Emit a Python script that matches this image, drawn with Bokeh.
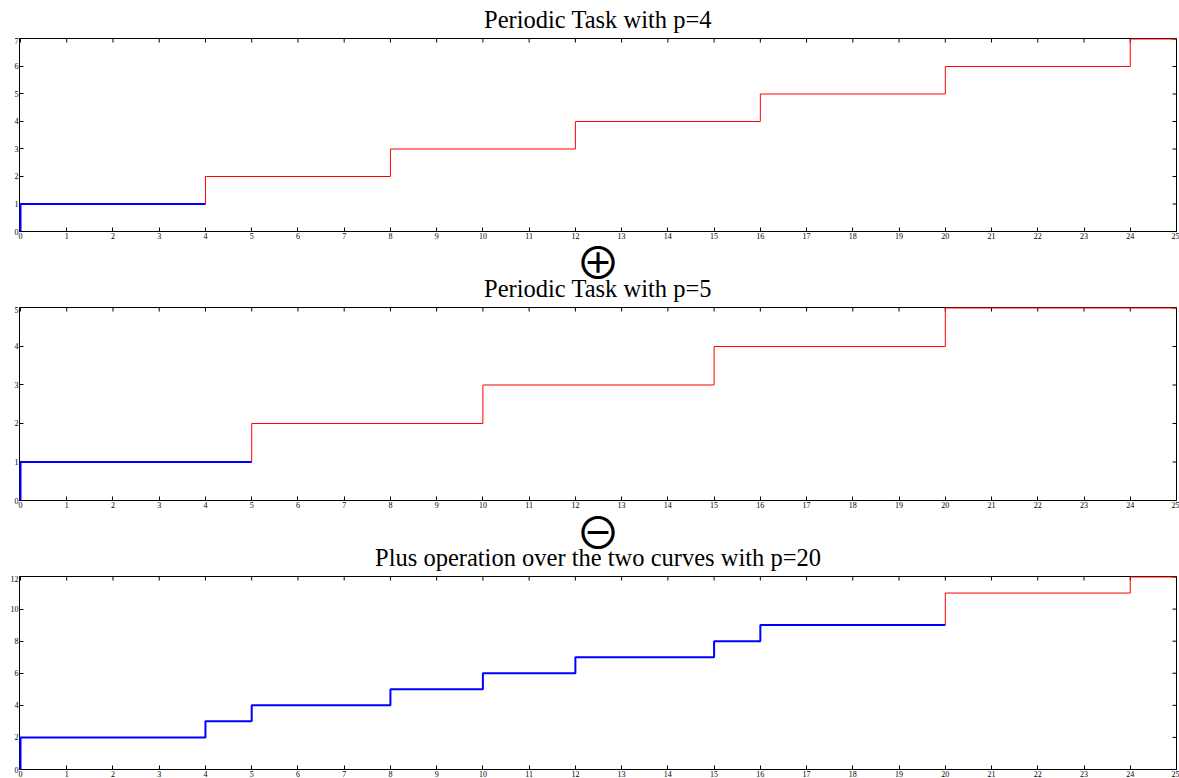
import math
from bokeh.plotting import figure
from bokeh.models import FixedTicker, Range1d
from bokeh.core.properties import value
from bokeh.layouts import column
from bokeh.embed import file_html
from bokeh.resources import INLINE

# ---- data ----
x_ticks = list(range(0, 26))
x_max = 25

p4_blue_x = [0, 0, 4]
p4_blue_y = [0, 1, 1]
p4_red_x = [4, 4, 8, 12, 16, 20, 24, 25]
p4_red_y = [1, 2, 3, 4, 5, 6, 7, 7]
p4_yticks = [0, 1, 2, 3, 4, 5, 6, 7]
p4_ymax = 7

p5_blue_x = [0, 0, 5]
p5_blue_y = [0, 1, 1]
p5_red_x = [5, 5, 10, 15, 20, 25]
p5_red_y = [1, 2, 3, 4, 5, 5]
p5_yticks = [0, 1, 2, 3, 4, 5]
p5_ymax = 5

sum_blue_x = [0, 0, 4, 5, 8, 10, 12, 15, 16, 20]
sum_blue_y = [0, 2, 3, 4, 5, 6, 7, 8, 9, 9]
sum_red_x = [20, 20, 24, 25]
sum_red_y = [9, 11, 12, 12]
sum_yticks = [0, 2, 4, 6, 8, 10, 12]
sum_ymax = 12

titles = ["Periodic Task with p=4", "Periodic Task with p=5",
          "Plus operation over the two curves with p=20"]
symbols = [None, "\u2295", "\u2296"]

SERIF = "Liberation Serif"
FW, FH = 1157, 193
BL, BR = 19, 3
OVERLAP = 22   # header panels slide up over the tick-label strip above


def header(title, symbol, h, title_y, sym_y, overlap):
    p = figure(frame_width=FW, frame_height=h, output_backend="svg",
               toolbar_location=None, x_range=Range1d(0, 1),
               y_range=Range1d(0, h), x_axis_type=None, y_axis_type=None,
               min_border_left=BL, min_border_right=BR,
               min_border_top=0, min_border_bottom=0,
               margin=(-overlap, 0, 0, 0))
    p.grid.visible = False
    p.outline_line_color = None
    p.background_fill_alpha = 0
    p.border_fill_alpha = 0
    p.text(x=[0.5], y=[title_y], text=[title], text_font=value(SERIF),
           text_font_size="24.5px", text_align="center",
           text_baseline="alphabetic", text_color="black")
    if symbol:
        p.text(x=[0.5], y=[sym_y], text=[symbol],
               text_font=value("Noto Sans CJK JP, DejaVu Sans"),
               text_font_size="45px", text_align="center",
               text_baseline="middle", text_color="black")
    return p


def style_axis(ax):
    ax.major_tick_in = 4
    ax.major_tick_out = 0
    ax.minor_tick_line_color = None
    ax.axis_line_color = "black"
    ax.major_tick_line_color = "black"
    ax.major_label_text_font = SERIF
    ax.major_label_text_color = "black"
    ax.major_label_standoff = 1
    ax.major_label_text_font_size = "8px"


def make(bx, by, rx, ry, yticks, ymax, bottom):
    ypad = 0.5 * ymax / FH    # half a pixel of headroom for the top step
    xpad = x_max / FW
    p = figure(frame_width=FW, frame_height=FH, output_backend="svg",
               toolbar_location=None, x_range=Range1d(-xpad, x_max),
               y_range=Range1d(0, ymax + ypad),
               min_border_left=BL, min_border_right=BR,
               min_border_top=1, min_border_bottom=bottom)
    p.grid.visible = False
    p.outline_line_color = "black"
    p.background_fill_color = "white"
    p.border_fill_color = "white"
    for ax in p.xaxis:
        ax.ticker = FixedTicker(ticks=x_ticks)
        style_axis(ax)
    for ax in p.yaxis:
        ax.ticker = FixedTicker(ticks=yticks)
        style_axis(ax)
    # inward ticks on the top and right edges of the frame
    p.scatter(x=x_ticks, y=[ymax + ypad] * len(x_ticks), marker="dash",
              size=8, angle=math.pi / 2, line_color="black", line_width=1)
    p.scatter(x=[x_max] * len(yticks), y=yticks, marker="dash",
              size=8, line_color="black", line_width=1)
    p.step(rx, ry, mode="after", line_color="red", line_width=1,
           level="overlay")
    p.step(bx, by, mode="after", line_color="blue", line_width=2,
           level="overlay")
    return p


h1 = header(titles[0], symbols[0], 37, 18, 0, 0)
p1 = make(p4_blue_x, p4_blue_y, p4_red_x, p4_red_y, p4_yticks, p4_ymax, 14)
h2 = header(titles[1], symbols[1], 61 + OVERLAP, 18, 46, OVERLAP)
p2 = make(p5_blue_x, p5_blue_y, p5_red_x, p5_red_y, p5_yticks, p5_ymax, 14)
h3 = header(titles[2], symbols[2], 61 + OVERLAP, 18, 45, OVERLAP)
p3 = make(sum_blue_x, sum_blue_y, sum_red_x, sum_red_y, sum_yticks,
          sum_ymax, 9)

layout = column(h1, p1, h2, p2, h3, p3, spacing=0)
open("out.html", "w").write(file_html(layout, INLINE))
